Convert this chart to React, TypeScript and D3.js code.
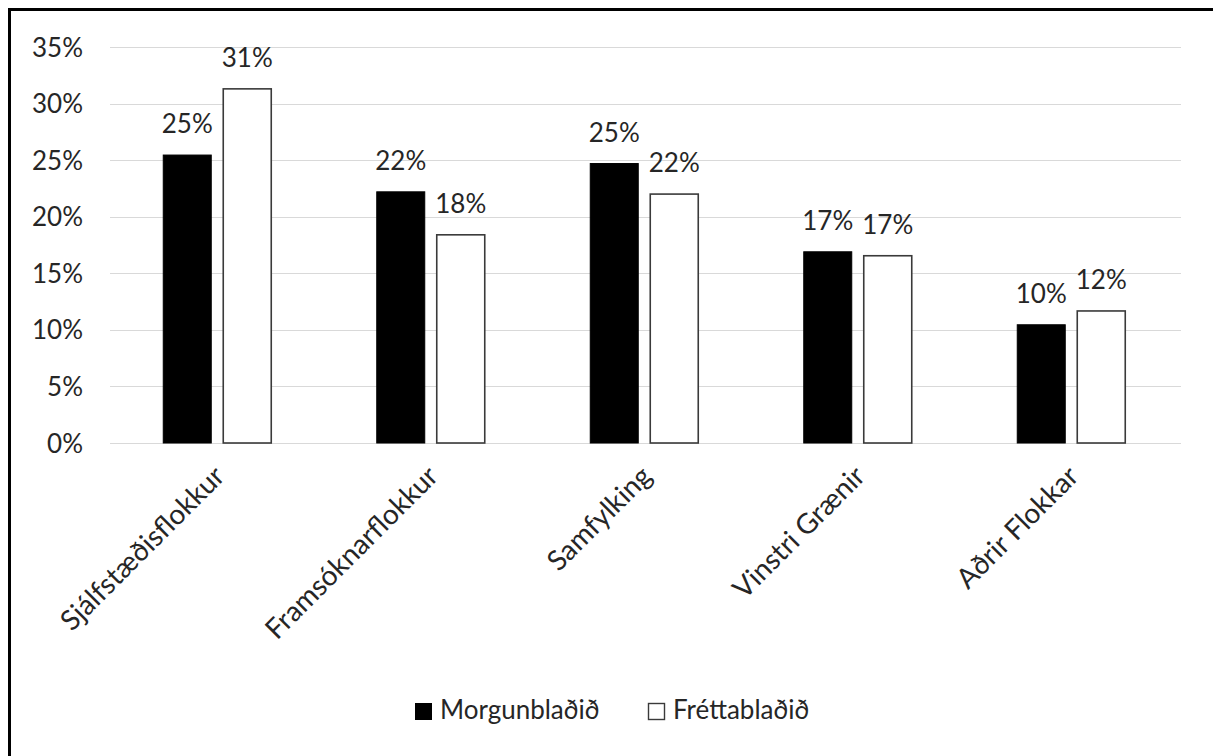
import React from 'react';
import * as d3 from 'd3';

// chart data
const categories = ['Sjálfstæðisflokkur', 'Framsóknarflokkur', 'Samfylking', 'Vinstri Grænir', 'Aðrir Flokkar'];
const seriesNames = ['Morgunblaðið', 'Fréttablaðið'];
const morgunbladid = [0.2545, 0.222, 0.247, 0.169, 0.1045];
const frettabladid = [0.313, 0.184, 0.220, 0.1655, 0.1167];
const yTicks = [0, 0.05, 0.1, 0.15, 0.2, 0.25, 0.3, 0.35];

const W = 1213;
const H = 756;
const FONT = 'Lato, "Open Sans", sans-serif';
const TEXT = '#262626';

const App: React.FC = () => {
    const x = d3.scaleBand<string>().domain(categories).range([110.5, 1178]).padding(0);
    const bw = x.bandwidth();
    const xSub = d3.scaleBand<string>().domain(seriesNames).range([bw / 2 - 54, bw / 2 + 54]).paddingInner(0.2);
    const y = d3.scaleLinear().domain([0, 0.35]).range([443, 47]);
    const fmt = d3.format('.0%');

    const rows = categories.map((c, i) => ({ cat: c, vals: [morgunbladid[i], frettabladid[i]] }));

    return (
        <svg width={W} height={H} style={{ position: 'absolute', left: 0, top: 0, background: '#fff' }}
            fontFamily={FONT}>
            <rect x={0} y={0} width={W} height={H} fill="#fff" />
            {/* frame */}
            <rect x={9.5} y={9.5} width={W + 20} height={H + 20} fill="none" stroke="#000" strokeWidth={3} />

            {/* gridlines + y labels */}
            {yTicks.map(t => (
                <g key={t}>
                    <line x1={110} x2={1181} y1={Math.round(y(t)) + 0.5} y2={Math.round(y(t)) + 0.5}
                        stroke="#d9d9d9" strokeWidth={1} />
                    <text x={83} y={y(t) + 9.5} textAnchor="end" fontSize={26} fill={TEXT}>{fmt(t)}</text>
                </g>
            ))}

            {/* bars */}
            {rows.map(r => (
                <g key={r.cat} transform={`translate(${x(r.cat)},0)`}>
                    {r.vals.map((v, j) => {
                        const bx = xSub(seriesNames[j]) as number;
                        const top = y(v);
                        return (
                            <g key={j}>
                                <rect x={bx} y={top} width={xSub.bandwidth()} height={y(0) - top}
                                    fill={j === 0 ? '#000' : '#fff'}
                                    stroke={j === 0 ? '#000' : '#3a3a3a'} strokeWidth={j === 0 ? 1 : 1.6} />
                                <text x={bx + xSub.bandwidth() / 2} y={top - 22} textAnchor="middle"
                                    fontSize={26} fill={TEXT}>{fmt(v)}</text>
                            </g>
                        );
                    })}
                </g>
            ))}

            {/* category labels */}
            {categories.map(c => {
                const cx = (x(c) as number) + bw / 2 + 9;
                return (
                    <text key={c} transform={`translate(${cx},478) rotate(-45)`} textAnchor="end"
                        fontSize={28} fill={TEXT}>{c}</text>
                );
            })}

            {/* legend */}
            <rect x={415.5} y={703.5} width={16} height={16} fill="#000" stroke="#000" />
            <text x={440} y={719} fontSize={26} fill={TEXT}>{seriesNames[0]}</text>
            <rect x={648.5} y={703.5} width={16} height={16} fill="#fff" stroke="#3a3a3a" strokeWidth={1.4} />
            <text x={673} y={719} fontSize={26} fill={TEXT}>{seriesNames[1]}</text>
        </svg>
    );
};

export default App;
